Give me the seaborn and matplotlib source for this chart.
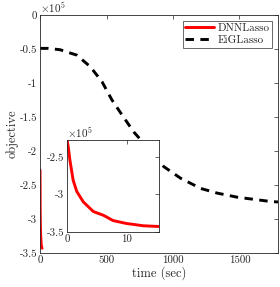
import numpy as np
import pandas as pd
import seaborn as sns
import matplotlib.pyplot as plt
from matplotlib.ticker import FuncFormatter

# objective values are in units of 1e5
eig_time = [0, 60, 151, 277, 378, 466, 541, 617, 705, 755, 850, 931, 1057, 1208, 1334, 1485, 1724, 1790]
eig_obj = [-0.49, -0.49, -0.51, -0.59, -0.76, -0.98, -1.25, -1.47, -1.72, -1.83, -2.05, -2.23, -2.40, -2.55, -2.62, -2.68, -2.74, -2.75]

dnn_time = [0.0, 0.2, 0.45, 1.0, 1.6, 2.7, 4.4, 6.1, 7.7, 10.0, 12.8, 15.5]
dnn_obj = [-2.28, -2.38, -2.54, -2.81, -2.96, -3.10, -3.23, -3.28, -3.35, -3.39, -3.42, -3.43]

df_eig = pd.DataFrame({"time": eig_time, "obj": eig_obj})
df_dnn = pd.DataFrame({"time": dnn_time, "obj": dnn_obj})

sns.set_style("white")
plt.rcParams['font.family'] = ['cmr10', 'DejaVu Serif']
plt.rcParams['mathtext.fontset'] = 'cm'
plt.rcParams['axes.unicode_minus'] = False
plt.rcParams['font.size'] = 8

axcol = '#262626'
fmt = FuncFormatter(lambda v, p: '%g' % v)


def style_axes(ax):
    for s in ax.spines.values():
        s.set_color(axcol)
        s.set_linewidth(0.6)
    ax.tick_params(direction='in', length=3, width=0.5, color=axcol,
                   labelcolor=axcol, top=True, right=True, labelsize=7.8, pad=2)
    ax.xaxis.set_major_formatter(fmt)
    ax.yaxis.set_major_formatter(fmt)


fig = plt.figure(figsize=(2.8, 2.87), dpi=100)
ax = fig.add_axes([0.143, 0.1185, 0.850, 0.829])

sns.lineplot(data=df_dnn, x="time", y="obj", ax=ax, color='red', linewidth=2.1, label='DNNLasso')
sns.lineplot(data=df_eig, x="time", y="obj", ax=ax, color='black', linewidth=2.1,
             linestyle=(0, (2.9, 2.2)), label='EiGLasso')

ax.set_xlim(0, 1790)
ax.set_ylim(-3.5, 0)
ax.set_xticks([0, 500, 1000, 1500])
ax.set_yticks(np.arange(-3.5, 0.01, 0.5))
ax.set_xlabel('time (sec)', fontsize=9, labelpad=1)
ax.set_ylabel('objective', fontsize=9, labelpad=1)
style_axes(ax)
ax.text(0.0, 1.0, r'$\times10^{5}$', transform=ax.transAxes, ha='left', va='bottom',
        fontsize=8, color=axcol)

leg = ax.legend(loc='upper right', fontsize=8, frameon=True, fancybox=False,
                borderaxespad=0.5, handlelength=2.6, borderpad=0.25, labelspacing=0.2,
                handletextpad=0.3)
leg.get_frame().set_edgecolor(axcol)
leg.get_frame().set_linewidth(0.6)

# inset zoom on DNNLasso
ins = fig.add_axes([0.240, 0.1925, 0.329, 0.318])
ins.set_facecolor('white')
sns.lineplot(data=df_dnn, x="time", y="obj", ax=ins, color='red', linewidth=2.1)
ins.set_xlim(0, 15.5)
ins.set_ylim(-3.5, -2.28)
ins.set_xticks([0, 10])
ins.set_yticks([-3.5, -3, -2.5])
ins.set_xlabel('')
ins.set_ylabel('')
style_axes(ins)
ins.text(0.0, 1.0, r'$\times10^{5}$', transform=ins.transAxes, ha='left', va='bottom',
         fontsize=8, color=axcol)

fig.savefig('out.png', dpi=100)
